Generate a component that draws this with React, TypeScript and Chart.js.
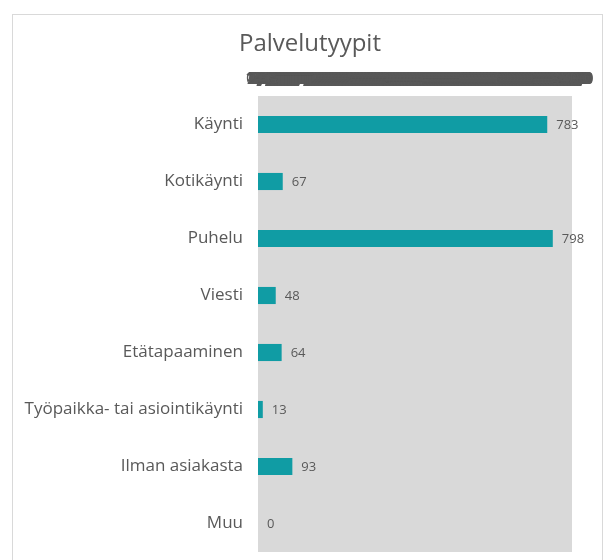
import React, { useEffect, useRef } from "react";
import { Chart, registerables } from "chart.js";
Chart.register(...registerables);

const chartTitle = "Palvelutyypit";
const categories = [
  "Käynti",
  "Kotikäynti",
  "Puhelu",
  "Viesti",
  "Etätapaaminen",
  "Työpaikka- tai asiointikäynti",
  "Ilman asiakasta",
  "Muu",
];
const values = [783, 67, 798, 48, 64, 13, 93, 0];
const axisMin = 0;
const axisMax = 850;
const axisStep = 1;

const TEXT = "#595959";
const FONT = "'Open Sans', 'DejaVu Sans', sans-serif";

export default function App() {
  const ref = useRef<HTMLCanvasElement>(null);
  useEffect(() => {
    document.body.style.margin = "0";
    const frame = {
      id: "frame",
      beforeDraw(chart: any) {
        const { ctx, chartArea } = chart;
        ctx.save();
        ctx.strokeStyle = "#d9d9d9";
        ctx.lineWidth = 1;
        ctx.strokeRect(12.5, 14.5, 590, 600);
        ctx.fillStyle = "#d9d9d9";
        ctx.fillRect(
          chartArea.left,
          chartArea.top,
          chartArea.right - chartArea.left,
          chartArea.bottom - chartArea.top
        );
        ctx.fillStyle = TEXT;
        ctx.font = `24px ${FONT}`;
        ctx.textAlign = "center";
        ctx.textBaseline = "middle";
        ctx.fillText(chartTitle, 310, 44);
        ctx.restore();
      },
    };
    const valueLabels = {
      id: "valueLabels",
      afterDatasetsDraw(chart: any) {
        const { ctx } = chart;
        const meta = chart.getDatasetMeta(0);
        ctx.save();
        ctx.fillStyle = TEXT;
        ctx.font = `13px ${FONT}`;
        ctx.textAlign = "left";
        ctx.textBaseline = "middle";
        meta.data.forEach((el: any, i: number) => {
          ctx.fillText(String(values[i]), el.x + 9, el.y + 1);
        });
        ctx.restore();
      },
    };
    const chart = new Chart(ref.current as HTMLCanvasElement, {
      type: "bar",
      data: {
        labels: categories,
        datasets: [
          {
            data: values,
            backgroundColor: "#109ca4",
            barPercentage: 0.3,
            categoryPercentage: 1,
          },
        ],
      },
      options: {
        indexAxis: "y",
        animation: false,
        responsive: true,
        maintainAspectRatio: false,
        layout: { padding: { left: 14, right: 35, top: 59, bottom: 8 } },
        plugins: {
          legend: { display: false },
          tooltip: { enabled: false },
          title: { display: false },
        },
        scales: {
          x: {
            position: "top",
            min: axisMin,
            max: axisMax,
            grid: { display: false, drawTicks: false },
            border: { display: false },
            ticks: {
              stepSize: axisStep,
              autoSkip: false,
              minRotation: 0,
              maxRotation: 0,
              color: TEXT,
              font: { family: FONT, size: 17 },
              padding: 7,
              callback: (v: any) => Number(v).toFixed(1).replace(".", ","),
            },
            afterFit: (s: any) => {
              s.height = 37;
            },
          },
          y: {
            grid: { display: false, drawTicks: false },
            border: { display: false },
            ticks: {
              color: TEXT,
              font: { family: FONT, size: 17 },
              padding: 15,
            },
            afterFit: (s: any) => {
              s.width = 244;
              s.paddingTop = 0;
              s.paddingBottom = 0;
            },
          },
        },
      } as any,
      plugins: [frame, valueLabels],
    });
    return () => chart.destroy();
  }, []);
  return (
    <div style={{ width: 607, height: 560, position: "relative" }}>
      <canvas ref={ref} />
    </div>
  );
}
